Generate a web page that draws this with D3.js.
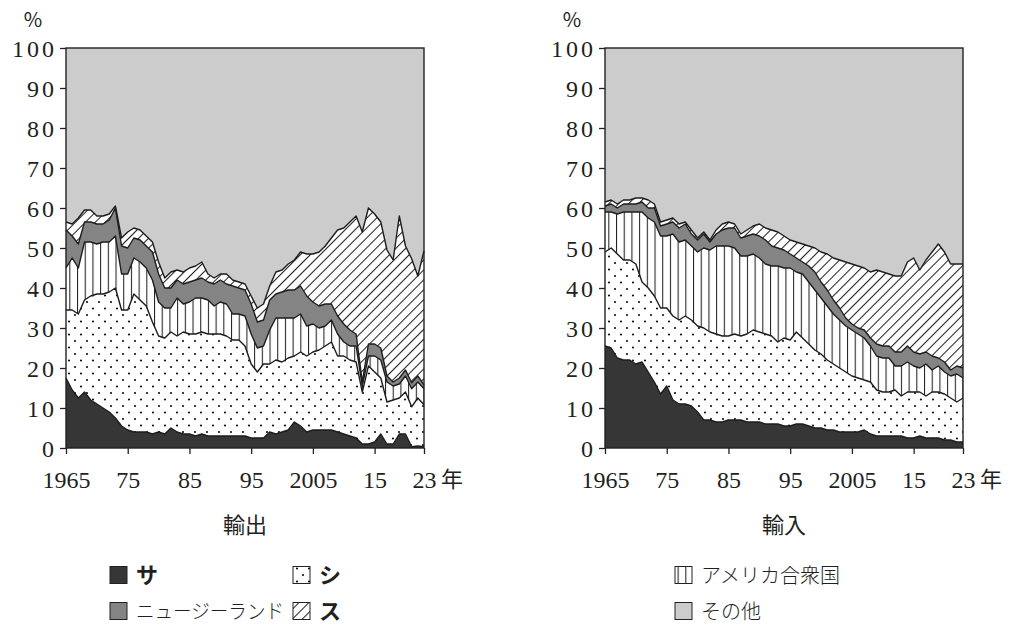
<!DOCTYPE html>
<html>
<head>
<meta charset="utf-8">
<script src="https://cdn.jsdelivr.net/npm/d3@7/dist/d3.min.js"></script>
<style>
  body { margin: 0; background: #fff; }
  svg text { fill: #231f20; }
  svg text.num { font-family: "Liberation Serif", Tinos, "Times New Roman", Times, "DejaVu Serif", serif; font-size: 24px; }
  svg text.jp { font-family: "Noto Sans CJK JP", "Noto Sans", sans-serif; }
</style>
</head>
<body>
<svg id="chart" width="1013" height="625"></svg>
<script>
var years = d3.range(1965, 2024);
var keys = ["sa", "shi", "usa", "nz", "su", "other"];

// 輸出 shares (%), 1965-2023
var exportSa = [17.5,14.5,12.5,14,12,11,10,9,7.5,5.5,
  4.5,4,4,4,3.5,4,3.5,5,4,3.5,
  3.5,3,3.5,3,3,3,3,3,3,3,
  2.5,2.5,2.5,4,3.5,4,4.5,6.5,5.5,4,
  4.5,4.5,4.5,4.5,4,3.5,3,2.5,1,1,
  1.5,3.5,1,1,3.5,3.5,0.3,0.5,0.3];
var exportShi = [17,20,21,23,26,27.5,28.5,30,32.5,29,
  30,34.5,33,31.5,28,24,24,24,24,25.5,
  25,25.5,25.5,25.5,25.5,25.5,25,24,24,22.5,
  18.5,16.5,18.5,17,18.5,17.5,18,16.5,18.5,19,
  19.5,20,21,22,19,19.5,19,19,13,19.5,
  17.5,14,10.5,11,9,10.5,10,12,10.5];
var exportUsa = [10.5,13,11.5,14.5,13.5,12.5,13,12.5,13,9,
  9,9,9.5,9.5,10.5,8.5,7.5,6,9.5,7,
  8,9,8.5,8.5,7,8,8,6.5,6.5,7.5,
  7.5,6,4.5,8.5,10.5,11,10,9.5,9.5,7.5,
  7,5.5,5,5.5,5.5,3.5,3.5,4,1.5,2.5,
  4,4.5,5,3.5,3.5,4,4.5,4,4];
var exportNz = [9.5,5.5,6,5,5,5,4.5,5.5,7,7,
  6.5,5,5.5,5.5,7,7,5,5,4.5,5,
  5,4.5,5,4.5,5.5,5.5,5,7,6.5,6.5,
  7.5,6.5,6.5,7.5,6,6.5,7,7,7,7.5,
  5.5,5.5,5.5,4,4.5,4.5,4,3,1,3,
  3,3,1.5,1,1.5,1.5,1.5,1.5,1];
var exportSu = [2,3,6.5,3,3,2,2,1.5,0.5,2,
  4,2.5,2.5,2.5,2.5,3,2.5,4,2.5,3,
  3.5,3.5,4,2,1.5,1.5,2.5,1.5,1.5,1.5,
  2,3.5,4,3.5,5.5,5.5,6.5,7.5,8.5,10.5,
  12,13.5,14.5,16.5,21.5,24,27,29.5,37.5,34,
  32.5,31.5,31.5,30.5,40.5,31,31,25,33.5];

// 輸入 shares (%), 1965-2023
var importSa = [25.5,25,22.5,22,22,21,21.5,19,16.5,13.5,
  15.5,12,11,11,10.5,9,7,7,6.5,6.5,
  7,7,7,6.5,6.5,6.5,6,6,6,5.5,
  5.5,6,6,5.5,5,5,4.5,4.5,4,4,
  4,4,4.5,3.5,3,3,3,3,3,2.5,
  2.5,3,2.5,2.5,2.5,2,2,1.5,1.5];
var importShi = [23.5,25,26,25,25,25,20,21,21.5,21.5,
  19.5,21,21,22,21.5,21.5,23,22,22,21.5,
  21,21.5,21,22,23,22.5,22.5,22,20.5,22,
  21.5,23,21.5,20.5,19.5,18.5,17.5,16.5,16,15,
  14,13.5,12.5,13,11.5,11,11,11.5,10,11.5,
  11.5,11,10.5,11.5,11.5,11.5,10.5,10,11];
var importUsa = [10,9,10,12,12,13,17.5,17.5,18.5,18,
  18,20.5,19.5,19,18.5,18.5,20,20.5,22,22.5,
  22.5,21.5,20,19.5,19,18.5,17.5,17.5,19,17.5,
  18,15,16,15.5,15,14,13.5,12.5,12,11.5,
  11.5,11,10.5,9,8.5,8.5,8.5,6,7.5,7.5,
  6.5,6,8,5.5,6.5,5.5,5.5,7,5];
var importNz = [1.5,2,1.5,2,2,2,2.5,2.5,3.5,2.5,
  3,3,3.5,4,3,3,3.5,2,3,4,
  4.5,5,4.5,5,5,5.5,6,5,4.5,4.5,
  3.5,3.5,3,4,4.5,4,4,3.5,3,2,
  1.5,1.5,2,2,3,3,3,3.5,3.5,4,
  3.5,3.5,3,3.5,2,2.5,1.5,2,2.5];
var importSu = [1,1,1,1,1,1.5,1,2,1,1,
  1,1,1,0.5,1,0.5,0.5,0.5,1,1.5,
  1.5,1,1,1.5,2,3,3,4,4,3.5,
  3.5,4,4.5,5,6,7.5,9,10.5,12,14,
  15,15.5,15.5,16.5,18.5,18.5,18,19,19,21,
  23.5,21,23,26,28.5,27.5,26.5,25.5,26];

var xTicks = [1965, 1975, 1985, 1995, 2005, 2015, 2023];
var xTickLabels = ["1965", "75", "85", "95", "2005", "15", "23"];
var yTicks = [0, 10, 20, 30, 40, 50, 60, 70, 80, 90, 100];

var fills = {
  sa: "#363636",
  shi: "url(#dots)",
  usa: "url(#vlines)",
  nz: "#848484",
  su: "url(#hatch)",
  other: "#cccccc"
};

var svg = d3.select("#chart");

// patterns
var defs = svg.append("defs");
var pDots = defs.append("pattern").attr("id", "dots")
  .attr("patternUnits", "userSpaceOnUse").attr("width", 12).attr("height", 13);
pDots.append("rect").attr("width", 12).attr("height", 13).attr("fill", "#fff");
pDots.append("circle").attr("cx", 3).attr("cy", 3).attr("r", 1.1).attr("fill", "#111");
pDots.append("circle").attr("cx", 9).attr("cy", 9.5).attr("r", 1.1).attr("fill", "#111");

var pV = defs.append("pattern").attr("id", "vlines")
  .attr("patternUnits", "userSpaceOnUse").attr("width", 7.7).attr("height", 10);
pV.append("rect").attr("width", 7.7).attr("height", 10).attr("fill", "#fff");
pV.append("line").attr("x1", 0.5).attr("x2", 0.5).attr("y1", 0).attr("y2", 10)
  .attr("stroke", "#222").attr("stroke-width", 1.1);

var pH = defs.append("pattern").attr("id", "hatch")
  .attr("patternUnits", "userSpaceOnUse").attr("width", 7).attr("height", 7)
  .attr("patternTransform", "rotate(45)");
pH.append("rect").attr("width", 7).attr("height", 7).attr("fill", "#fff");
pH.append("line").attr("x1", 0.5).attr("x2", 0.5).attr("y1", 0).attr("y2", 7)
  .attr("stroke", "#222").attr("stroke-width", 1.1);

function buildRows(sa, shi, usa, nz, su) {
  return years.map(function(yr, i) {
    var r = {year: yr, sa: sa[i], shi: shi[i], usa: usa[i], nz: nz[i], su: su[i]};
    r.other = 100 - (r.sa + r.shi + r.usa + r.nz + r.su);
    return r;
  });
}

function drawPanel(rows, left, right, title) {
  var top = 48, bottom = 448;
  var x = d3.scaleLinear().domain([1965, 2023]).range([left, right]);
  var y = d3.scaleLinear().domain([0, 100]).range([bottom, top]);
  var series = d3.stack().keys(keys)(rows);
  var g = svg.append("g");

  var area = d3.area()
    .x(function(d) { return x(d.data.year); })
    .y0(function(d) { return y(d[0]); })
    .y1(function(d) { return y(d[1]); });

  g.selectAll("path.layer").data(series).enter().append("path")
    .attr("class", "layer")
    .attr("d", area)
    .attr("fill", function(d) { return fills[d.key]; });

  //boundary lines between layers
  var line = d3.line()
    .x(function(d) { return x(d.data.year); })
    .y(function(d) { return y(d[1]); });
  g.selectAll("path.edge").data(series.slice(0, 5)).enter().append("path")
    .attr("class", "edge")
    .attr("d", line)
    .attr("fill", "none")
    .attr("stroke", "#1d1d1d")
    .attr("stroke-width", 1.4)
    .attr("stroke-linejoin", "round");

  g.append("rect")
    .attr("x", left).attr("y", top)
    .attr("width", right - left).attr("height", bottom - top)
    .attr("fill", "none").attr("stroke", "#222").attr("stroke-width", 1.4);

  var yAxis = g.append("g")
    .attr("transform", "translate(" + left + ",0)")
    .call(d3.axisLeft(y).tickValues(yTicks).tickSize(6).tickPadding(3));
  yAxis.attr("font-family", null).attr("font-size", null);
  yAxis.select(".domain").remove();
  yAxis.selectAll("line").attr("stroke", "#222").attr("stroke-width", 1.3);
  yAxis.selectAll("text")
    .attr("class", "num")
    .style("letter-spacing", "3px").attr("dy", "0.34em");

  var xAxis = g.append("g")
    .attr("transform", "translate(0," + bottom + ")")
    .call(d3.axisBottom(x).tickValues(xTicks)
      .tickFormat(function(d, i) { return xTickLabels[i]; })
      .tickSize(6));
  xAxis.attr("font-family", null).attr("font-size", null);
  xAxis.select(".domain").remove();
  xAxis.selectAll("line").attr("stroke", "#222").attr("stroke-width", 1.3);
  xAxis.selectAll("text")
    .attr("class", "num")
    .attr("y", 40).attr("dy", null);

  g.append("text").attr("class", "jp")
    .attr("x", right + 17).attr("y", bottom + 39)
    .style("font-size", "22px")
    .text("年");

  g.append("text").attr("class", "jp")
    .attr("x", left - 33).attr("y", 27)
    .attr("text-anchor", "middle")
    .style("font-size", "20px")
    .text("%");

  g.append("text").attr("class", "jp")
    .attr("x", (left + right) / 2).attr("y", 533)
    .attr("text-anchor", "middle")
    .style("font-size", "22px")
    .text(title);
}

drawPanel(buildRows(exportSa, exportShi, exportUsa, exportNz, exportSu), 66, 424, "輸出");
drawPanel(buildRows(importSa, importShi, importUsa, importNz, importSu), 605, 963, "輸入");

// legend
var legendItems = [
  {key: "sa", label: "サ", x: 110, row: 0, bold: true},
  {key: "shi", label: "シ", x: 293, row: 0, bold: true},
  {key: "usa", label: "アメリカ合衆国", x: 675, row: 0, bold: false},
  {key: "nz", label: "ニュージーランド", x: 110, row: 1, bold: false, fit: 148},
  {key: "su", label: "ス", x: 293, row: 1, bold: true},
  {key: "other", label: "その他", x: 675, row: 1, bold: false}
];
var rowY = [575, 611];
var lg = svg.append("g");
legendItems.forEach(function(it) {
  var cy = rowY[it.row];
  lg.append("rect")
    .attr("x", it.x).attr("y", cy - 8.5)
    .attr("width", 17).attr("height", 17)
    .attr("fill", fills[it.key])
    .attr("stroke", "#222").attr("stroke-width", 1);
  var t = lg.append("text").attr("class", "jp")
    .attr("x", it.x + 26).attr("y", cy + 7.5)
    .style("font-size", it.bold ? "22px" : "20px")
    .style("font-weight", it.bold ? 700 : 300)
    .text(it.label);
  if (it.fit) t.attr("textLength", it.fit).attr("lengthAdjust", "spacingAndGlyphs");
});
</script>
</body>
</html>
